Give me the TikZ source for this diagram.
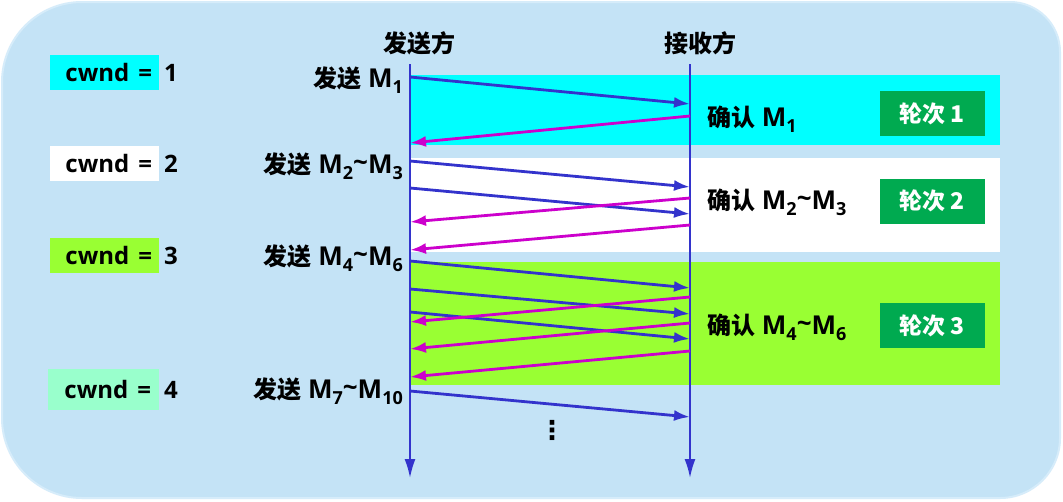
\documentclass[tikz,border=0pt]{standalone}
\usepackage{fontspec}
\setmainfont{Open Sans}
\newfontfamily\zh{Noto Sans CJK SC}
\newfontfamily\dvs{DejaVu Sans}
\usetikzlibrary{arrows.meta}
\definecolor{bg}{RGB}{196,227,246}
\definecolor{bgedge}{RGB}{214,236,250}
\definecolor{bandcyan}{RGB}{0,255,255}
\definecolor{bandgreen}{RGB}{153,255,51}
\definecolor{mint}{RGB}{153,255,204}
\definecolor{roundgreen}{RGB}{0,170,80}
\definecolor{sendblue}{RGB}{51,51,204}
\definecolor{ackmag}{RGB}{204,0,204}
\newcommand\msub[1]{\raisebox{-6pt}{\fontsize{18}{18}\selectfont #1}}
\newcommand\tld{\raisebox{2pt}{\textasciitilde}}
\newcommand\zhb[1]{{\zh\bfseries\fontsize{24}{24}\selectfont #1}}
\tikzset{
  lat/.style={font=\bfseries\fontsize{24}{24}\selectfont, inner sep=0pt},
  mlab/.style={font=\bfseries\fontsize{26}{26}\selectfont, inner sep=0pt},
  cwbox/.style={lat, minimum width=109, minimum height=35, align=right, text width=95},
  rndbox/.style={fill=roundgreen, text=white, font=\zh\bfseries\fontsize{23}{23}\selectfont, minimum width=105, minimum height=45, inner sep=0pt},
  life/.style={draw=sendblue, line width=2pt, -{Latex[length=19pt,width=11pt]}},
  snd/.style={draw=sendblue, line width=2.8pt, -{Latex[length=16pt,width=11pt]}},
  ack/.style={draw=ackmag, line width=2.8pt, -{Latex[length=16pt,width=11pt]}},
}
\begin{document}
\begin{tikzpicture}[x=1pt,y=-1pt]
\useasboundingbox (0,0) rectangle (1063,501);
\fill[white] (0,0) rectangle (1063,501);
\filldraw[fill=bg, draw=bgedge, line width=2pt] (2,82) arc[start angle=180,end angle=270,radius=80] -- (1010,2) arc[start angle=270,end angle=360,radius=50] -- (1060,438) arc[start angle=0,end angle=90,radius=60] -- (82,498) arc[start angle=90,end angle=180,radius=80] -- cycle;
% bands
\fill[bandcyan] (410,75) rectangle (1000,145);
\fill[white] (410,158) rectangle (1000,252);
\fill[bandgreen] (410,262) rectangle (1000,385);
% lifelines
\coordinate (s0) at (410,64); \coordinate (s1) at (410,478);
\coordinate (r0) at (690,64); \coordinate (r1) at (690,478);
\draw[life] (s0) -- (s1);
\draw[life] (r0) -- (r1);
\node[inner sep=0pt, anchor=base] (snd) at (419,52) {\zhb{发送方}};
\node[inner sep=0pt, anchor=base] (rcv) at (700,52) {\zhb{接收方}};
% coordinates on lifelines
\foreach \n/\y in {a/77,b/143,c/161,d/188,e/222,f/250,g/261,h/289,i/312,j/322,k/349,l/377,m/391}
  \coordinate (S\n) at (410,\y);
\foreach \n/\y in {a/104,b/116,c/187,d/214,e/198,f/225,g/288,h/314,i/339,j/297,k/323,l/351,m/417}
  \coordinate (R\n) at (690,\y);
% round 1
\draw[snd] (Sa) -- (Ra);
\draw[ack] (Rb) -- (Sb);
% round 2
\draw[snd] (Sc) -- (Rc);
\draw[snd] (Sd) -- (Rd);
\draw[ack] (Re) -- (Se);
\draw[ack] (Rf) -- (Sf);
% round 3
\draw[snd] (Sg) -- (Rg);
\draw[snd] (Sh) -- (Rh);
\draw[snd] (Si) -- (Ri);
\draw[ack] (Rj) -- (Sj);
\draw[ack] (Rk) -- (Sk);
\draw[ack] (Rl) -- (Sl);
% round 4
\draw[snd] (Sm) -- (Rm);
\node[font=\dvs\bfseries\fontsize{26}{26}\selectfont, inner sep=0pt] (dots) at (552,430) {⋮};
% cwnd boxes
\node[cwbox, fill=bandcyan] (c1) at (104.5,72.5) {cwnd\hspace{9pt}=};
\node[lat, anchor=west] (n1) at (164,72.5) {1};
\node[cwbox, fill=white] (c2) at (104.5,163.5) {cwnd\hspace{9pt}=};
\node[lat, anchor=west] (n2) at (164,163.5) {2};
\node[cwbox, fill=bandgreen] (c3) at (104.5,255.5) {cwnd\hspace{9pt}=};
\node[lat, anchor=west] (n3) at (164,255.5) {3};
\node[cwbox, fill=mint, minimum width=111, minimum height=41] (c4) at (103.5,389.5) {cwnd\hspace{9pt}=};
\node[lat, anchor=west] (n4) at (164,389.5) {4};
% send labels
\node[mlab, anchor=base east] (l1) at (403,87) {\zhb{发送} M\msub{1}};
\node[mlab, anchor=base east] (l2) at (403,173) {\zhb{发送} M\msub{2}\tld M\msub{3}};
\node[mlab, anchor=base east] (l3) at (403,265) {\zhb{发送} M\msub{4}\tld M\msub{6}};
\node[mlab, anchor=base east] (l4) at (403,398) {\zhb{发送} M\msub{7}\tld M\msub{10}};
% ack labels
\node[mlab, anchor=base west] (k1) at (707,126) {\zhb{确认} M\msub{1}};
\node[mlab, anchor=base west] (k2) at (707,209) {\zhb{确认} M\msub{2}\tld M\msub{3}};
\node[mlab, anchor=base west] (k3) at (707,334) {\zhb{确认} M\msub{4}\tld M\msub{6}};
% round boxes
\node[rndbox] (q1) at (932,113.5) {轮次 1};
\node[rndbox] (q2) at (932,201) {轮次 2};
\node[rndbox] (q3) at (932,325.5) {轮次 3};
\end{tikzpicture}
\end{document}
